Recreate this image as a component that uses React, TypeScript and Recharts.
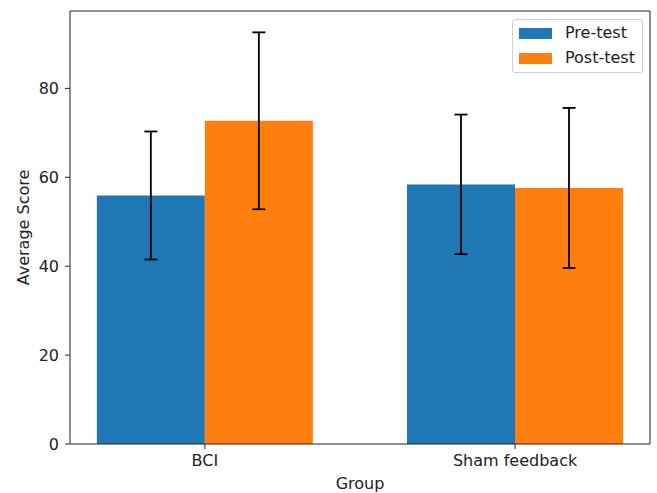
import React from 'react';
import { BarChart, Bar, XAxis, YAxis, ErrorBar, ReferenceLine } from 'recharts';

const groups = ['BCI', 'Sham feedback'];
const preTest = [55.9, 58.4];
const preErr = [14.4, 15.7];
const postTest = [72.7, 57.6];
const postErr = [19.9, 18.0];
const yTicks = [0, 20, 40, 60, 80];
const seriesNames = ['Pre-test', 'Post-test'];
const seriesColors = ['#1f77b4', '#ff7f0e'];

const X_DOMAIN: [number, number] = [-0.435, 1.435];
const Y_DOMAIN: [number, number] = [0, 97.4];

const data = groups.map((g, i) => ({
  x: i,
  group: g,
  pre: preTest[i],
  preErr: preErr[i],
  post: postTest[i],
  postErr: postErr[i],
}));

const FONT = '"DejaVu Sans", sans-serif';
const FS = 16;
const AXIS = '#222';

const LegendBox = () => (
  <div
    style={{
      position: 'absolute',
      left: 512,
      top: 19,
      width: 129,
      height: 52,
      border: '1px solid #d0d0d0',
      borderRadius: 3,
      background: 'rgba(255,255,255,0.8)',
      fontFamily: FONT,
      fontSize: FS,
      color: '#222',
    }}
  >
    {seriesNames.map((n, i) => (
      <div
        key={n}
        style={{ position: 'absolute', left: 6, top: 7 + i * 25, height: 12, display: 'flex', alignItems: 'center' }}
      >
        <div style={{ width: 33, height: 11, background: seriesColors[i] }} />
        <span style={{ marginLeft: 13, lineHeight: '12px', whiteSpace: 'nowrap' }}>{n}</span>
      </div>
    ))}
  </div>
);

const YLabel = (props: any) => {
  const vb = props.viewBox || { x: 0, y: 11, width: 70, height: 433 };
  const cx = vb.x + 23;
  const cy = vb.y + vb.height / 2;
  return (
    <text
      x={cx}
      y={cy}
      transform={`rotate(-90 ${cx} ${cy})`}
      textAnchor="middle"
      dominantBaseline="central"
      fontFamily={FONT}
      fontSize={FS}
      fill="#222"
    >
      Average Score
    </text>
  );
};

const XLabel = (props: any) => {
  const vb = props.viewBox || { x: 70, y: 444, width: 580, height: 49 };
  return (
    <text
      x={vb.x + vb.width / 2}
      y={vb.y + 45}
      textAnchor="middle"
      fontFamily={FONT}
      fontSize={FS}
      fill="#222"
    >
      Group
    </text>
  );
};

export default function App() {
  return (
    <div style={{ position: 'absolute', left: 0, top: 0, width: 657, height: 493, background: '#fff' }}>
      <BarChart
        width={657}
        height={493}
        data={data}
        margin={{ top: 11, right: 7, bottom: 0, left: 0 }}
        barGap={0}
      >
        <XAxis
          dataKey="x"
          type="number"
          domain={X_DOMAIN}
          ticks={[0, 1]}
          interval={0}
          allowDataOverflow
          tickFormatter={(v: number) => groups[v] ?? ''}
          height={49}
          stroke={AXIS}
          tickSize={5}
          tickMargin={6}
          tick={{ fontFamily: FONT, fontSize: FS, fill: '#222' }}
          label={<XLabel />}
        />
        <YAxis
          type="number"
          domain={Y_DOMAIN}
          ticks={yTicks}
          interval={0}
          allowDataOverflow
          width={70}
          stroke={AXIS}
          tickSize={5}
          tickMargin={6}
          tick={{ fontFamily: FONT, fontSize: FS, fill: '#222' }}
          label={<YLabel />}
        />
        <Bar dataKey="pre" name={seriesNames[0]} fill={seriesColors[0]} barSize={108} isAnimationActive={false}>
          <ErrorBar dataKey="preErr" width={6.5} stroke="#000" strokeWidth={1.8} direction="y" />
        </Bar>
        <Bar dataKey="post" name={seriesNames[1]} fill={seriesColors[1]} barSize={108} isAnimationActive={false}>
          <ErrorBar dataKey="postErr" width={6.5} stroke="#000" strokeWidth={1.8} direction="y" />
        </Bar>
        <ReferenceLine y={Y_DOMAIN[1]} stroke={AXIS} ifOverflow="visible" />
        <ReferenceLine x={X_DOMAIN[1]} stroke={AXIS} ifOverflow="visible" />
      </BarChart>
      <LegendBox />
    </div>
  );
}
